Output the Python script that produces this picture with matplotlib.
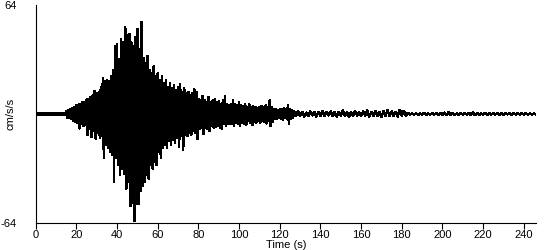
"""Acceleration record: cm/s/s vs time"""
import numpy as np
import matplotlib
matplotlib.use("Agg")
import matplotlib.pyplot as plt
plt.rcParams["font.family"] = ["Liberation Sans", "DejaVu Sans"]
plt.rcParams["font.size"] = 8

# strong-motion part, 0-126 s: upper and lower peak per 1 s window (cm/s/s)
peak_up = [
    0.3, 0.3, 0.3, 0.3, 0.3, 0.3, 0.3, 0.3, 0.3, 0.3, 0.3, 0.3, 0.3, 0.3, 0.5,
    1.5, 2, 3, 3.5, 4, 5, 5.5, 6, 7, 7, 8.5, 9, 10, 11, 13.5,
    12, 13, 16, 21, 19, 20, 19, 22, 26, 40, 41, 32, 44, 42, 51,
    46, 47, 42, 40, 45, 50, 38, 54, 33, 30, 34, 26, 24, 28, 22,
    24, 20, 22, 18, 20, 16, 18, 15, 17, 14, 16, 17.5, 13, 15, 12,
    13, 11, 12, 14.5, 13, 9, 8, 10.5, 8, 7, 10, 7, 8, 8.5, 7,
    7.5, 6, 8, 10.5, 6, 5, 5.5, 8, 6, 5, 7, 5, 4.5, 5.5, 4,
    5.5, 4, 4.5, 4, 3.5, 4, 4.5, 4, 5, 4, 8, 4, 3, 3, 2.5,
    3, 3, 3.5, 3, 5, 3, 2.5,
]
peak_dn = [
    -0.3, -0.3, -0.3, -0.3, -0.3, -0.3, -0.3, -0.3, -0.3, -0.3, -0.3, -0.3, -0.3, -0.3, -0.5,
    -2, -2.5, -3, -4, -4.5, -5, -8.5, -6, -7, -6.5, -12.5, -9, -13.5, -10, -14.5,
    -11, -14, -13, -26, -18, -20, -22, -24, -40, -26, -30, -36, -32, -35, -44,
    -40, -54, -52, -63, -53, -53, -45, -42, -40, -36, -38, -30, -32, -28, -30,
    -22, -26, -20, -18, -20, -16, -18, -15, -17, -14, -19, -13, -21, -12, -13,
    -11, -12, -10, -11, -14.5, -9, -8, -11.5, -8, -9, -10, -7, -8, -7.5, -7,
    -8, -9, -6, -7, -6, -5.5, -6, -7, -5, -6, -7, -5, -5.5, -6.5, -4,
    -5, -6.5, -4.5, -5, -4, -5, -4, -4.5, -5.5, -4, -7, -4.5, -3, -3, -2.5,
    -3, -3.5, -2.5, -3, -6, -3, -2.5,
]
# coda, 127-246 s: one reading per second (cm/s/s)
coda = [
    1.5, -1.2, 1.8, -1, 1.2, -1.5, 0.8, -1.2, 1.5, -0.8, 1.2, -1.5, 1, -1.2, 1.8, -1, 1.2,
    -0.8, 1.5, -1.2, 1, -1.5, 1.2, -0.8, 2, -1.2, 1, -1.5, 1.2, -1, 1.5, -0.8, 1.2, -1.2,
    1.5, -1, 2, -1.5, 1.2, -1, 1.8, -1.2, 1, -1.5, 1.5, -1, 2.2, -1.2, 1.5, -1, 1.2,
    -1.5, 2.5, -1, 1.8, -0.8,
    0.6, -0.4, 0.3, -0.3, 0.4, -0.5, 0.3, -0.2, 0.6, -0.4, 0.3, -0.3, 0.4, -0.2, 0.5,
    -0.4, 0.3, -0.3, 0.8, -0.6, 1, -0.5, 0.6, -0.4, 0.3, -0.4, 0.5, -0.3, 0.4, -0.3,
    0.6, -0.5, 0.8, -0.6, 0.5, -0.4, 0.3, -0.3, 0.6, -0.4, 0.5, -0.3, 0.4, -0.3, 0.6,
    -0.5, 0.4, -0.3, 0.3, -0.2, 0.4, -0.3, 0.5, -0.3, 0.3, -0.2, 0.3, -0.2, 0.4, -0.3,
    0.2, -0.2, 0.3, -0.2, 0.2,
]

n = min(len(peak_up), len(peak_dn))
t_head = np.repeat(np.arange(n, dtype=float), 2)
t_head[1::2] += 0.5
a_head = np.empty(2 * n)
a_head[0::2] = peak_up[:n]
a_head[1::2] = peak_dn[:n]
t = np.concatenate([t_head, n + np.arange(len(coda), dtype=float)])
acc = np.concatenate([a_head, coda])

fig = plt.figure(figsize=(5.5, 2.5), dpi=100)
ax = fig.add_axes([0.065, 0.108, 0.9096, 0.872])
ax.plot(t, acc, color="black", lw=1.1, antialiased=False)

ax.set_xlim(0, 246)
ax.set_ylim(-64, 64)
ax.set_xticks(range(0, 241, 20))
ax.set_yticks([-64, 64])
ax.set_yticklabels(["-64", "64"])
ax.tick_params(axis="x", direction="out", length=4, width=0.8, pad=1)
ax.tick_params(axis="y", length=0, pad=14)
for s in ("top", "right"):
    ax.spines[s].set_visible(False)
ax.spines["left"].set_linewidth(0.8)
ax.spines["bottom"].set_linewidth(0.8)
ax.set_xlabel("Time (s)", labelpad=0)
ax.set_ylabel("cm/s/s")
ax.yaxis.set_label_coords(-0.04, 0.5)

fig.savefig("out.png", dpi=100)
plt.close()
